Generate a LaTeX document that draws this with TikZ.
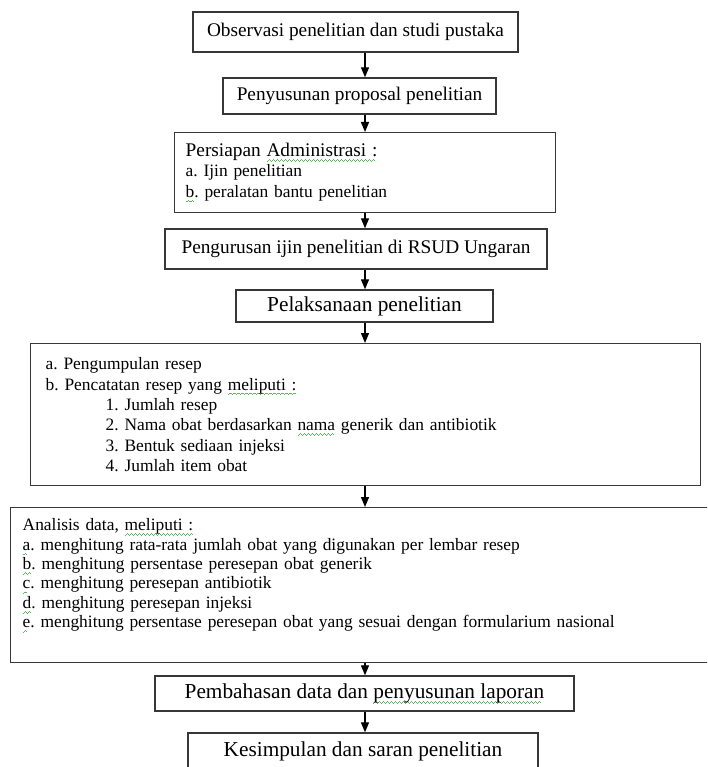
\documentclass[tikz,border=0pt]{standalone}
\usepackage{fontspec}
\setmainfont{Liberation Serif}
\usetikzlibrary{arrows.meta}

\definecolor{linegray}{RGB}{55,55,55}
\definecolor{spellgreen}{RGB}{90,185,90}

% green wavy mark under words, as in the scan
\newcommand\wavepiece{\hbox{\rule[0pt]{1pt}{0.8pt}\rule[0.8pt]{1pt}{0.8pt}\rule[1.6pt]{1pt}{0.8pt}\rule[0.8pt]{1pt}{0.8pt}}}
\newcommand\spellmark[1]{\leavevmode\setbox0\hbox{#1}%
  \rlap{\raisebox{-5pt}{\hbox to \wd0{{\color{spellgreen}\leaders\wavepiece\hfill}}}}\box0\relax}

\newcommand\stepfont{\frenchspacing\fontsize{19.3}{22}\selectfont}
\newcommand\largefont{\frenchspacing\fontsize{21.3}{24}\selectfont}
\newcommand\listfont{\frenchspacing\fontsize{17.4}{20.4}\selectfont}

\tikzset{
  flowbox/.style={rectangle, draw=linegray, line width=1.4pt, inner sep=0pt},
  flowarrow/.style={draw=black, line width=1.3pt, -{Triangle[length=10pt,width=8pt]}},
}

\begin{document}
\begin{tikzpicture}[x=1pt,y=-1pt]
\useasboundingbox (0,0) rectangle (707,767);
\clip (0,0) rectangle (707,767);
\coordinate (spine) at (365,0);

\node[flowbox,
      minimum width=325,
      minimum height=40,
      font=\stepfont] (obs) at (355.5,32) {Observasi penelitian dan studi pustaka};

\node[flowbox,
      minimum width=273,
      minimum height=36,
      font=\stepfont] (prop) at (359.5,96) {Penyusunan proposal penelitian};

\node[flowbox,
      anchor=north west,
      minimum width=381,
      minimum height=80,
      text width=359,
      inner xsep=11,
      align=left,
      font=\listfont] (adm) at (174,132)
  {{\stepfont Persiapan \spellmark{Administrasi :}}\\
   a. Ijin penelitian\\
   \spellmark{b}. peralatan bantu penelitian};

\node[flowbox,
      minimum width=382,
      minimum height=40,
      font=\stepfont] (ijin) at (356,249) {Pengurusan ijin penelitian di RSUD Ungaran};

\node[flowbox,
      minimum width=257,
      minimum height=32,
      font=\largefont] (exec) at (364.5,306) {Pelaksanaan penelitian};

\node[flowbox,
      anchor=north west,
      minimum width=670,
      minimum height=142,
      text width=640,
      inner xsep=15,
      align=left,
      font=\listfont] (resep) at (30,343)
  {a. Pengumpulan resep\\
   b. Pencatatan resep yang \spellmark{meliputi :}\\
   \hspace*{60pt}1. Jumlah resep\\
   \hspace*{60pt}2. Nama obat berdasarkan \spellmark{nama} generik dan antibiotik\\
   \hspace*{60pt}3. Bentuk sediaan injeksi\\
   \hspace*{60pt}4. Jumlah item obat};

\node[flowbox,
      anchor=north west,
      minimum width=720,
      text width=696,
      inner xsep=12,
      text height=23,
      text depth=132,
      align=left,
      font={\frenchspacing\fontsize{17.4}{19.4}\selectfont}] (anl) at (10,507)
  {Analisis data, \spellmark{meliputi :}\\
   \spellmark{a}. menghitung rata-rata jumlah obat yang digunakan per lembar resep\\
   \spellmark{b}. menghitung persentase peresepan obat generik\\
   \spellmark{c}. menghitung peresepan antibiotik\\
   \spellmark{d}. menghitung peresepan injeksi\\
   \spellmark{e}. menghitung persentase peresepan obat yang sesuai dengan formularium nasional};

\node[flowbox,
      minimum width=419,
      minimum height=35,
      font=\largefont] (lap) at (364.5,693.5) {Pembahasan data dan \spellmark{penyusunan laporan}};

\node[flowbox,
      minimum width=350,
      minimum height=37,
      font=\largefont] (simp) at (363,751.5) {Kesimpulan dan saran penelitian};

\draw[flowarrow] (obs.south -| spine) -- (prop.north -| spine);
\draw[flowarrow] (prop.south -| spine) -- (adm.north -| spine);
\draw[flowarrow] (adm.south -| spine) -- (ijin.north -| spine);
\draw[flowarrow] (ijin.south -| spine) -- (exec.north -| spine);
\draw[flowarrow] (exec.south -| spine) -- (resep.north -| spine);
\draw[flowarrow] (resep.south -| spine) -- (anl.north -| spine);
\draw[flowarrow] (anl.south -| spine) -- (lap.north -| spine);
\draw[flowarrow] (lap.south -| spine) -- (simp.north -| spine);
\end{tikzpicture}
\end{document}
